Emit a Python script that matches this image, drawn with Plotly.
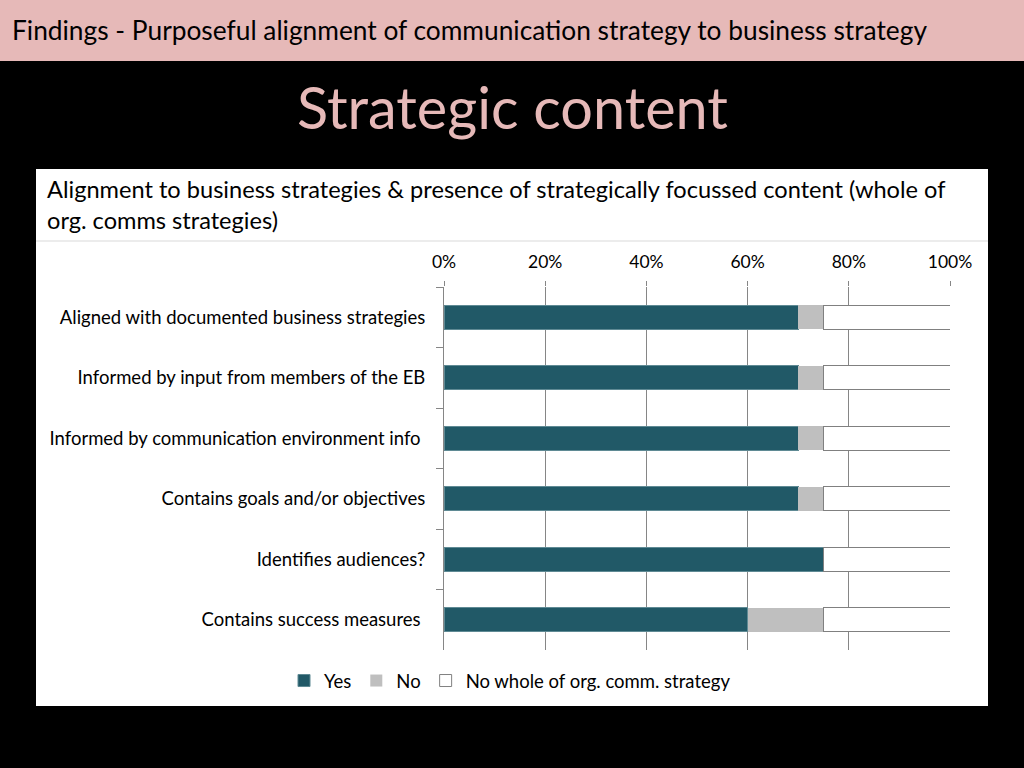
import plotly.graph_objects as go

categories = [
    "Aligned with documented business strategies",
    "Informed by input from members of the EB",
    "Informed by communication environment info ",
    "Contains goals and/or objectives",
    "Identifies audiences?",
    "Contains success measures ",
]
yes_vals = [70, 70, 70, 70, 75, 60]
no_vals = [5, 5, 5, 5, 0, 15]
no_whole_vals = [25, 25, 25, 25, 25, 25]
x_ticks = [0, 20, 40, 60, 80, 100]
x_tick_labels = ["0%", "20%", "40%", "60%", "80%", "100%"]

FONT = "Lato"
W, H = 1024, 768

fig = go.Figure()
fig.add_trace(go.Bar(y=categories, x=yes_vals, name="Yes", orientation="h", cliponaxis=False,
                     marker=dict(color="#215967", line=dict(color="#5f8a94", width=1))))
fig.add_trace(go.Bar(y=categories, x=no_vals, name="No", orientation="h", cliponaxis=False,
                     marker=dict(color="#bfbfbf", line=dict(color="#bfbfbf", width=0))))
fig.add_trace(go.Bar(y=categories, x=no_whole_vals, name="No whole of org. comm. strategy",
                     orientation="h", cliponaxis=False,
                     marker=dict(color="#ffffff", line=dict(color="#808080", width=1))))

x0, x1 = 444 / W, 950 / W
y0, y1 = 1 - 650 / H, 1 - 287 / H

fig.update_layout(
    width=W, height=H,
    margin=dict(l=0, r=0, t=0, b=0, autoexpand=False),
    paper_bgcolor="#000000",
    plot_bgcolor="rgba(0,0,0,0)",
    barmode="stack",
    bargap=0.6,
    font=dict(family=FONT, color="#000000", size=18),
    showlegend=True,
    legend=dict(orientation="h", x=510 / W, xanchor="center", y=1 - 681 / H, yanchor="middle",
                font=dict(size=18.5, family=FONT, color="#000000"), bgcolor="rgba(0,0,0,0)",
                traceorder="normal"),
    xaxis=dict(domain=[x0, x1], range=[0, 100], side="top", tickvals=x_ticks,
               ticktext=x_tick_labels, showgrid=True, gridcolor="#868686", gridwidth=1,
               ticks="outside", ticklen=5, tickcolor="#868686", showline=False,
               zeroline=False, automargin=False, ticklabelstandoff=6,
               tickfont=dict(size=17.5, family=FONT, color="#000000")),
    yaxis=dict(domain=[y0, y1], autorange="reversed", showline=True, linecolor="#868686",
               linewidth=1, ticks="outside", tickson="boundaries", ticklen=7,
               tickcolor="#868686", showgrid=False, ticklabelstandoff=14, automargin=False,
               tickfont=dict(size=18.5, family=FONT, color="#000000")),
)

shapes = [
    dict(type="rect", xref="paper", yref="paper", x0=0, x1=1, y0=1 - 61 / H, y1=1,
         fillcolor="#e6b9b8", line=dict(width=0), layer="below"),
    dict(type="rect", xref="paper", yref="paper", x0=36 / W, x1=988 / W,
         y0=1 - 706 / H, y1=1 - 169 / H, fillcolor="#ffffff", line=dict(width=0), layer="below"),
    dict(type="line", xref="paper", yref="paper", x0=36 / W, x1=988 / W,
         y0=1 - 241 / H, y1=1 - 241 / H, line=dict(color="#d9d9d9", width=1), layer="below"),
]
fig.update_layout(shapes=shapes)

annotations = [
    dict(text="Findings - Purposeful alignment of communication strategy to business strategy",
         x=10 / W, y=1 - 30 / H, xref="paper", yref="paper", xanchor="left", yanchor="middle",
         showarrow=False, font=dict(size=26.3, family=FONT, color="#000000")),
    dict(text="Strategic content", x=0.5, y=1 - 106 / H, xref="paper", yref="paper",
         xanchor="center", yanchor="middle", showarrow=False,
         font=dict(size=57.6, family=FONT, color="#e6b9b8")),
    dict(text="Alignment to business strategies &amp; presence of strategically focussed content (whole of<br>org. comms strategies)",
         x=45 / W, y=1 - 205 / H, xref="paper", yref="paper", xanchor="left", yanchor="middle",
         align="left", showarrow=False, font=dict(size=23.6, family=FONT, color="#000000")),
]
fig.update_layout(annotations=annotations)

fig.write_html("out.html", config={"displayModeBar": False},
               post_script="document.body.style.margin='0';document.body.style.overflow='hidden';")
